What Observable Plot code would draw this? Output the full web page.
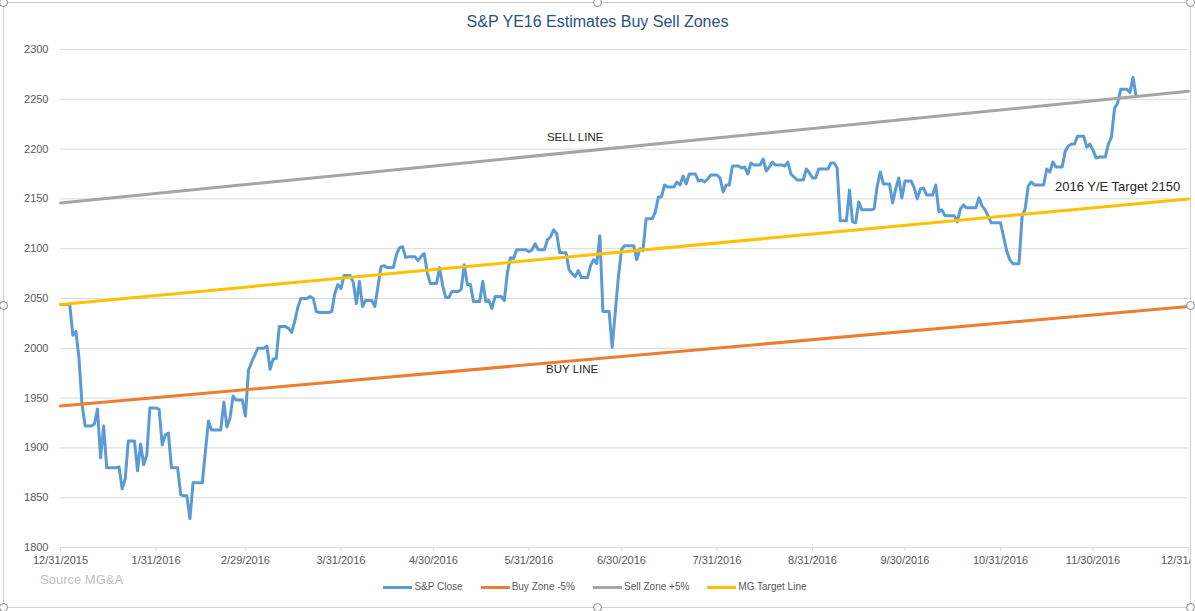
<!DOCTYPE html>
<html>
<head>
<meta charset="utf-8">
<script src="https://cdn.jsdelivr.net/npm/d3@7"></script>
<script src="https://cdn.jsdelivr.net/npm/@observablehq/plot@0.6"></script>
<style>
  html, body { margin: 0; padding: 0; background: #fff; }
  #page { position: relative; width: 1195px; height: 611px; overflow: hidden; background: #fff;
          font-family: "Liberation Sans", Arial, sans-serif; }
  #frame { position: absolute; left: 3px; top: 2px; width: 1188px; height: 606px; box-sizing: border-box;
           border: 1px solid #cfcfcf; }
  .handle { position: absolute; width: 9px; height: 9px; box-sizing: border-box; border-radius: 50%;
            border: 1px solid #8a8a8a; background: #fff; }
  #title { position: absolute; left: 0; top: 0; width: 1195px; height: 40px; line-height: 44px;
           text-align: center; font-size: 16px; color: #2b5284; }
  #chart { position: absolute; left: 0; top: 40px; width: 1190px; height: 530px; overflow: hidden; }
  #source { position: absolute; left: 40px; top: 572px; font-size: 13px; color: #bfbfbf; line-height: 16px; }
  #legend { position: absolute; left: 0; top: 580px; width: 1190px; display: flex; justify-content: center;
            font-size: 10px; color: #595959; line-height: 14px; }
  .item { display: flex; align-items: center; margin: 0 9px; }
  .sw { width: 29px; height: 3px; margin-right: 2px; }
</style>
</head>
<body>
<div id="page">
  <div id="frame"></div>
  <div id="title">S&amp;P YE16 Estimates Buy Sell Zones</div>
  <div id="chart"></div>
  <div id="source">Source MG&amp;A</div>
  <div id="legend"></div>
</div>
<script>
// ---- Data (daily S&P closes, calendar days; non-trading days hold the prior close) ----
const startDate = "2015-12-31";
const dec2015 = [2044];
const jan2016 = [2044,2044,2044,2013,2017,1990,1943,1922,1922,1922,1924,1939,1890,1922,1880,1880,1880,1880,1881,1859,1869,1907,1907,1907,1877,1904,1883,1893,1940,1940,1940];
const feb2016 = [1939,1903,1913,1915,1880,1880,1880,1853,1852,1852,1829,1865,1865,1865,1865,1896,1927,1918,1918,1918,1918,1946,1921,1930,1952,1948,1948,1948,1932];
const mar2016 = [1978,1986,1993,2000,2000,2000,2002,1979,1989,1990,2022,2022,2022,2020,2016,2027,2041,2050,2050,2050,2052,2050,2037,2036,2036,2036,2036,2037,2055,2064,2060];
const apr2016 = [2073,2073,2073,2066,2045,2067,2042,2048,2048,2048,2042,2062,2082,2083,2081,2081,2081,2094,2101,2102,2091,2092,2092,2092,2088,2092,2095,2076,2065,2065];
const may2016 = [2065,2081,2063,2051,2051,2057,2057,2057,2059,2084,2064,2064,2047,2047,2047,2067,2047,2048,2040,2052,2052,2052,2048,2076,2091,2090,2099,2099,2099,2099,2097];
const jun2016 = [2099,2105,2099,2099,2099,2109,2112,2119,2115,2096,2096,2096,2079,2075,2072,2078,2071,2071,2071,2083,2089,2085,2113,2037,2037,2037,2001,2036,2071,2099];
const jul2016 = [2103,2103,2103,2103,2089,2100,2098,2130,2130,2130,2137,2152,2152,2164,2162,2162,2162,2167,2164,2173,2165,2175,2175,2175,2168,2169,2167,2170,2174,2174,2174];
const aug2016 = [2171,2157,2164,2164,2183,2183,2183,2181,2182,2175,2186,2184,2184,2184,2190,2178,2182,2187,2184,2184,2184,2183,2187,2175,2172,2169,2169,2169,2180,2176,2171];
const sep2016 = [2171,2180,2180,2180,2180,2186,2186,2181,2128,2128,2128,2159,2127,2126,2147,2139,2139,2139,2139,2140,2163,2177,2165,2165,2165,2146,2160,2171,2151,2168];
const oct2016 = [2168,2168,2161,2150,2160,2161,2154,2154,2154,2164,2137,2139,2133,2133,2133,2133,2127,2140,2144,2141,2141,2141,2141,2151,2143,2139,2133,2126,2126,2126,2126];
const nov2016 = [2112,2098,2089,2085,2085,2085,2132,2140,2163,2167,2164,2164,2164,2164,2180,2177,2187,2182,2182,2182,2198,2203,2205,2205,2213,2213,2213,2202,2205,2199];
const dec2016 = [2191,2192,2192,2192,2205,2212,2241,2246,2260,2260,2260,2257,2272,2253];

// Straight reference lines: endpoints on 12/31/2015 and 12/31/2016
const lineDates = ["2015-12-31", "2016-12-31"];
const buyZone = [1942, 2042];
const sellZone = [2146, 2258];
const mgTarget = [2044, 2150];

// Axis ticks
const yTicks = [1800, 1850, 1900, 1950, 2000, 2050, 2100, 2150, 2200, 2250, 2300];
const xTickLabels = ["12/31/2015","1/31/2016","2/29/2016","3/31/2016","4/30/2016","5/31/2016","6/30/2016","7/31/2016","8/31/2016","9/30/2016","10/31/2016","11/30/2016","12/31/2016"];

// Annotations
const annotations = [
  {date: "2016-06-15", value: 2212, label: "SELL LINE", size: 11.5},
  {date: "2016-06-14", value: 1979, label: "BUY LINE", size: 11.5},
  {date: "2016-12-08", value: 2162, label: "2016 Y/E Target 2150", size: 13}
];

// Series meta
const seriesNames = ["S&P Close", "Buy Zone -5%", "Sell Zone +5%", "MG Target Line"];
const seriesColors = ["#5b9bd5", "#ed7d31", "#a5a5a5", "#ffc000"];

// ---- Build tables ----
const closes = [].concat(dec2015, jan2016, feb2016, mar2016, apr2016, may2016, jun2016, jul2016, aug2016, sep2016, oct2016, nov2016, dec2016);
const t0 = new Date(startDate + "T00:00:00Z").getTime();
const spData = closes.map((v, i) => ({date: new Date(t0 + i * 86400000), value: v}));
const mkLine = (vals) => lineDates.map((d, i) => ({date: new Date(d + "T00:00:00Z"), value: vals[i]}));
const buyData = mkLine(buyZone), sellData = mkLine(sellZone), targetData = mkLine(mgTarget);
const parseMDY = (s) => { const [m, d, y] = s.split("/").map(Number); return new Date(Date.UTC(y, m - 1, d)); };
const xTickDates = xTickLabels.map(parseMDY);
const labelByTime = new Map(xTickDates.map((d, i) => [d.getTime(), xTickLabels[i]]));
const annData = annotations.map(a => ({...a, date: new Date(a.date + "T00:00:00Z")}));

const chart = Plot.plot({
  width: 1190,
  height: 530,
  marginLeft: 60,
  marginRight: 2,
  marginTop: 9,
  marginBottom: 23,
  style: {fontFamily: "'Liberation Sans', Arial, sans-serif", fontSize: "11px", color: "#595959", background: "transparent"},
  x: {type: "utc", domain: [xTickDates[0], xTickDates[xTickDates.length - 1]], label: null},
  y: {domain: [1800, 2300], label: null},
  marks: [
    Plot.gridY(yTicks, {stroke: "#d9d9d9", strokeOpacity: 1, strokeWidth: 1}),
    Plot.axisY(yTicks, {tickSize: 0, tickPadding: 12, fill: "#595959", fontSize: 11, label: null,
      tickFormat: d => String(d)}),
    Plot.axisX(xTickDates, {tickSize: 4, tickPadding: 5, stroke: "#d9d9d9", fill: "#595959", fontSize: 11, label: null,
      tickFormat: d => labelByTime.get(d.getTime())}),
    Plot.line(spData, {x: "date", y: "value", stroke: seriesColors[0], strokeWidth: 3, strokeLinejoin: "round"}),
    Plot.line(buyData, {x: "date", y: "value", stroke: seriesColors[1], strokeWidth: 3}),
    Plot.line(sellData, {x: "date", y: "value", stroke: seriesColors[2], strokeWidth: 3}),
    Plot.line(targetData, {x: "date", y: "value", stroke: seriesColors[3], strokeWidth: 3}),
    Plot.text(annData.filter(a => a.size < 12), {x: "date", y: "value", text: "label", fill: "#262626", fontSize: 11.5}),
    Plot.text(annData.filter(a => a.size >= 12), {x: "date", y: "value", text: "label", fill: "#262626", fontSize: 13})
  ]
});
document.getElementById("chart").appendChild(chart);

// Legend
const legend = document.getElementById("legend");
seriesNames.forEach((name, i) => {
  const item = document.createElement("div");
  item.className = "item";
  const sw = document.createElement("span");
  sw.className = "sw";
  sw.style.background = seriesColors[i];
  const tx = document.createElement("span");
  tx.textContent = name;
  item.appendChild(sw); item.appendChild(tx);
  legend.appendChild(item);
});

// Chart-frame selection handles (decoration)
const page = document.getElementById("page");
[[3,2],[597,2],[1190,2],[3,305],[1190,305],[3,607],[597,607],[1190,607]].forEach(([cx, cy]) => {
  const h = document.createElement("div");
  h.className = "handle";
  h.style.left = (cx - 4.5) + "px";
  h.style.top = (cy - 4.5) + "px";
  page.appendChild(h);
});
</script>
</body>
</html>
